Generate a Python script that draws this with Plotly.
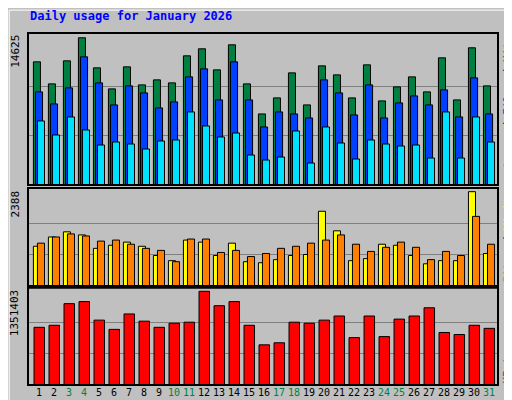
import plotly.graph_objects as go

days = list(range(1, 32))
weekend = [3, 4, 10, 11, 17, 18, 24, 25, 31]

hits = [12237, 10048, 12336, 14625, 11640, 9550, 11739, 9948, 10446, 10147, 12833, 13530, 11440, 13927, 10048, 7063,
        8655, 11142, 7959, 11838, 10943, 8655, 11938, 8356, 9749, 10744, 9252, 12634, 8456, 13629, 9849]
files = [9252, 8058, 9650, 12734, 10147, 7959, 9849, 9152, 7660, 8257, 10744, 11540, 8456, 12236, 8456, 5770,
         7262, 7063, 6665, 10446, 9152, 6964, 9948, 6665, 8158, 8854, 7959, 9451, 6765, 10644, 7063]
pages = [6367, 4974, 6765, 5472, 3979, 4278, 4079, 3581, 4377, 4477, 7262, 5869, 4775, 5173, 2984, 2487,
         2785, 5372, 2189, 5770, 4178, 2587, 4477, 4079, 3880, 3979, 2686, 7262, 2686, 6765, 4278]
sites = [1007, 1242, 1372, 1294, 955, 1033, 1112, 1007, 773, 643, 1164, 1112, 773, 1086, 617, 591,
         669, 773, 799, 1893, 1398, 643, 695, 1059, 1033, 773, 564, 643, 643, 2388, 825]
visits = [1086, 1242, 1320, 1268, 1138, 1164, 1059, 955, 903, 617, 1190, 1190, 851, 903, 747, 825,
          955, 1007, 1086, 1164, 1294, 1059, 877, 981, 1112, 981, 669, 877, 773, 1763, 1059]
kbytes = [831600, 861300, 1173150, 1202850, 935550, 801900, 1024650, 920700, 831600, 891000, 905850, 1351403,
          1143450, 1202850, 861300, 579150, 608850, 905850, 891000, 935550, 994950, 683100, 994950, 697950,
          950400, 994950, 1113750, 757350, 727650, 861300, 816750]

max_hits, max_sites, max_kb = 14625, 2388, 1351403
mono = "DejaVu Sans Mono"

fig = go.Figure()

def add_bars(vals, color, offset, width, yaxis):
    fig.add_trace(go.Bar(x=days, y=vals, offset=offset, width=width, yaxis=yaxis,
                         marker=dict(color=color, line=dict(color="black", width=1))))

add_bars(hits, "#008040", -0.37, 0.47, "y")
add_bars(files, "#0040FF", -0.23, 0.47, "y")
add_bars(pages, "#00E0FF", -0.10, 0.47, "y")
add_bars(sites, "#FFFF00", -0.37, 0.47, "y2")
add_bars(visits, "#FF8000", -0.10, 0.47, "y2")
add_bars(kbytes, "#FF0000", -0.33, 0.70, "y3")

ticktext = [f"<span style='color:#008040'>{d}</span>" if d in weekend else str(d) for d in days]

def yax(dom, top, maxv):
    return dict(domain=dom, range=[0, top], tickvals=[maxv / 3, maxv * 2 / 3], showticklabels=False,
                showgrid=True, gridcolor="#808080", gridwidth=1, zeroline=False, showline=False,
                fixedrange=True, automargin=False)

fig.update_layout(
    width=512, height=400, barmode="overlay", showlegend=False,
    paper_bgcolor="#C0C0C0", plot_bgcolor="#C0C0C0",
    margin=dict(l=20, r=22, t=25, b=23, autoexpand=False),
    xaxis=dict(range=[0.27, 31.6], tickvals=days, ticktext=ticktext, ticks="", showgrid=False,
               tickangle=0, automargin=False,
               tickfont=dict(family=mono, size=10, color="black"), zeroline=False, anchor="y3"),
    yaxis=yax([0.568, 1.0], 15100, max_hits),
    yaxis2=yax([0.281, 0.560], 2484, max_sites),
    yaxis3=yax([0.0, 0.276], 1401000, max_kb),
)

shapes = [
    dict(type="rect", xref="paper", yref="paper", x0=-0.040, x1=1.040, y0=-0.060, y1=1.065,
         line=dict(color="white", width=1)),
    dict(type="line", xref="paper", yref="paper", x0=1.044, x1=1.044, y0=-0.063, y1=1.062,
         line=dict(color="#808080", width=4)),
    dict(type="line", xref="paper", yref="paper", x0=-0.036, x1=1.044, y0=-0.063, y1=-0.063,
         line=dict(color="#808080", width=4)),
]
for y0, y1 in [(0.568, 1.0), (0.281, 0.560), (0.0, 0.276)]:
    shapes.append(dict(type="rect", xref="paper", yref="paper", x0=0, x1=1, y0=y0, y1=y1,
                       line=dict(color="black", width=2)))
fig.update_layout(shapes=shapes)

def side(text, x, y, anchor):
    return dict(text=text, x=x, y=y, xref="paper", yref="paper", textangle=-90, xanchor="center",
                yanchor=anchor, showarrow=False, font=dict(family=mono, size=11, color="black"))

ann = [
    dict(text="<b>Daily usage for January 2026</b>", x=0.0, y=1.048, xref="paper", yref="paper",
         xanchor="left", yanchor="middle", showarrow=False, font=dict(family=mono, size=12, color="#0000FF")),
    side(str(max_hits), -0.027, 1.0, "top"),
    side(str(max_sites), -0.027, 0.558, "top"),
    side(str(max_kb), -0.027, 0.276, "top"),
    side("<span style='color:#00E0FF'>Pages</span> / <span style='color:#0040FF'>Files</span> / "
         "<span style='color:#008040'>Hits</span>", 1.02, 1.0, "top"),
    side("<span style='color:#FF8000'>Sites</span> / <span style='color:#FFFF00'>Visits</span>", 1.02, 0.56, "top"),
    side("<span style='color:#FF0000'>KBytes</span>", 1.02, 0.0, "bottom"),
]
fig.update_layout(annotations=ann)

fig.write_html("out.html")
